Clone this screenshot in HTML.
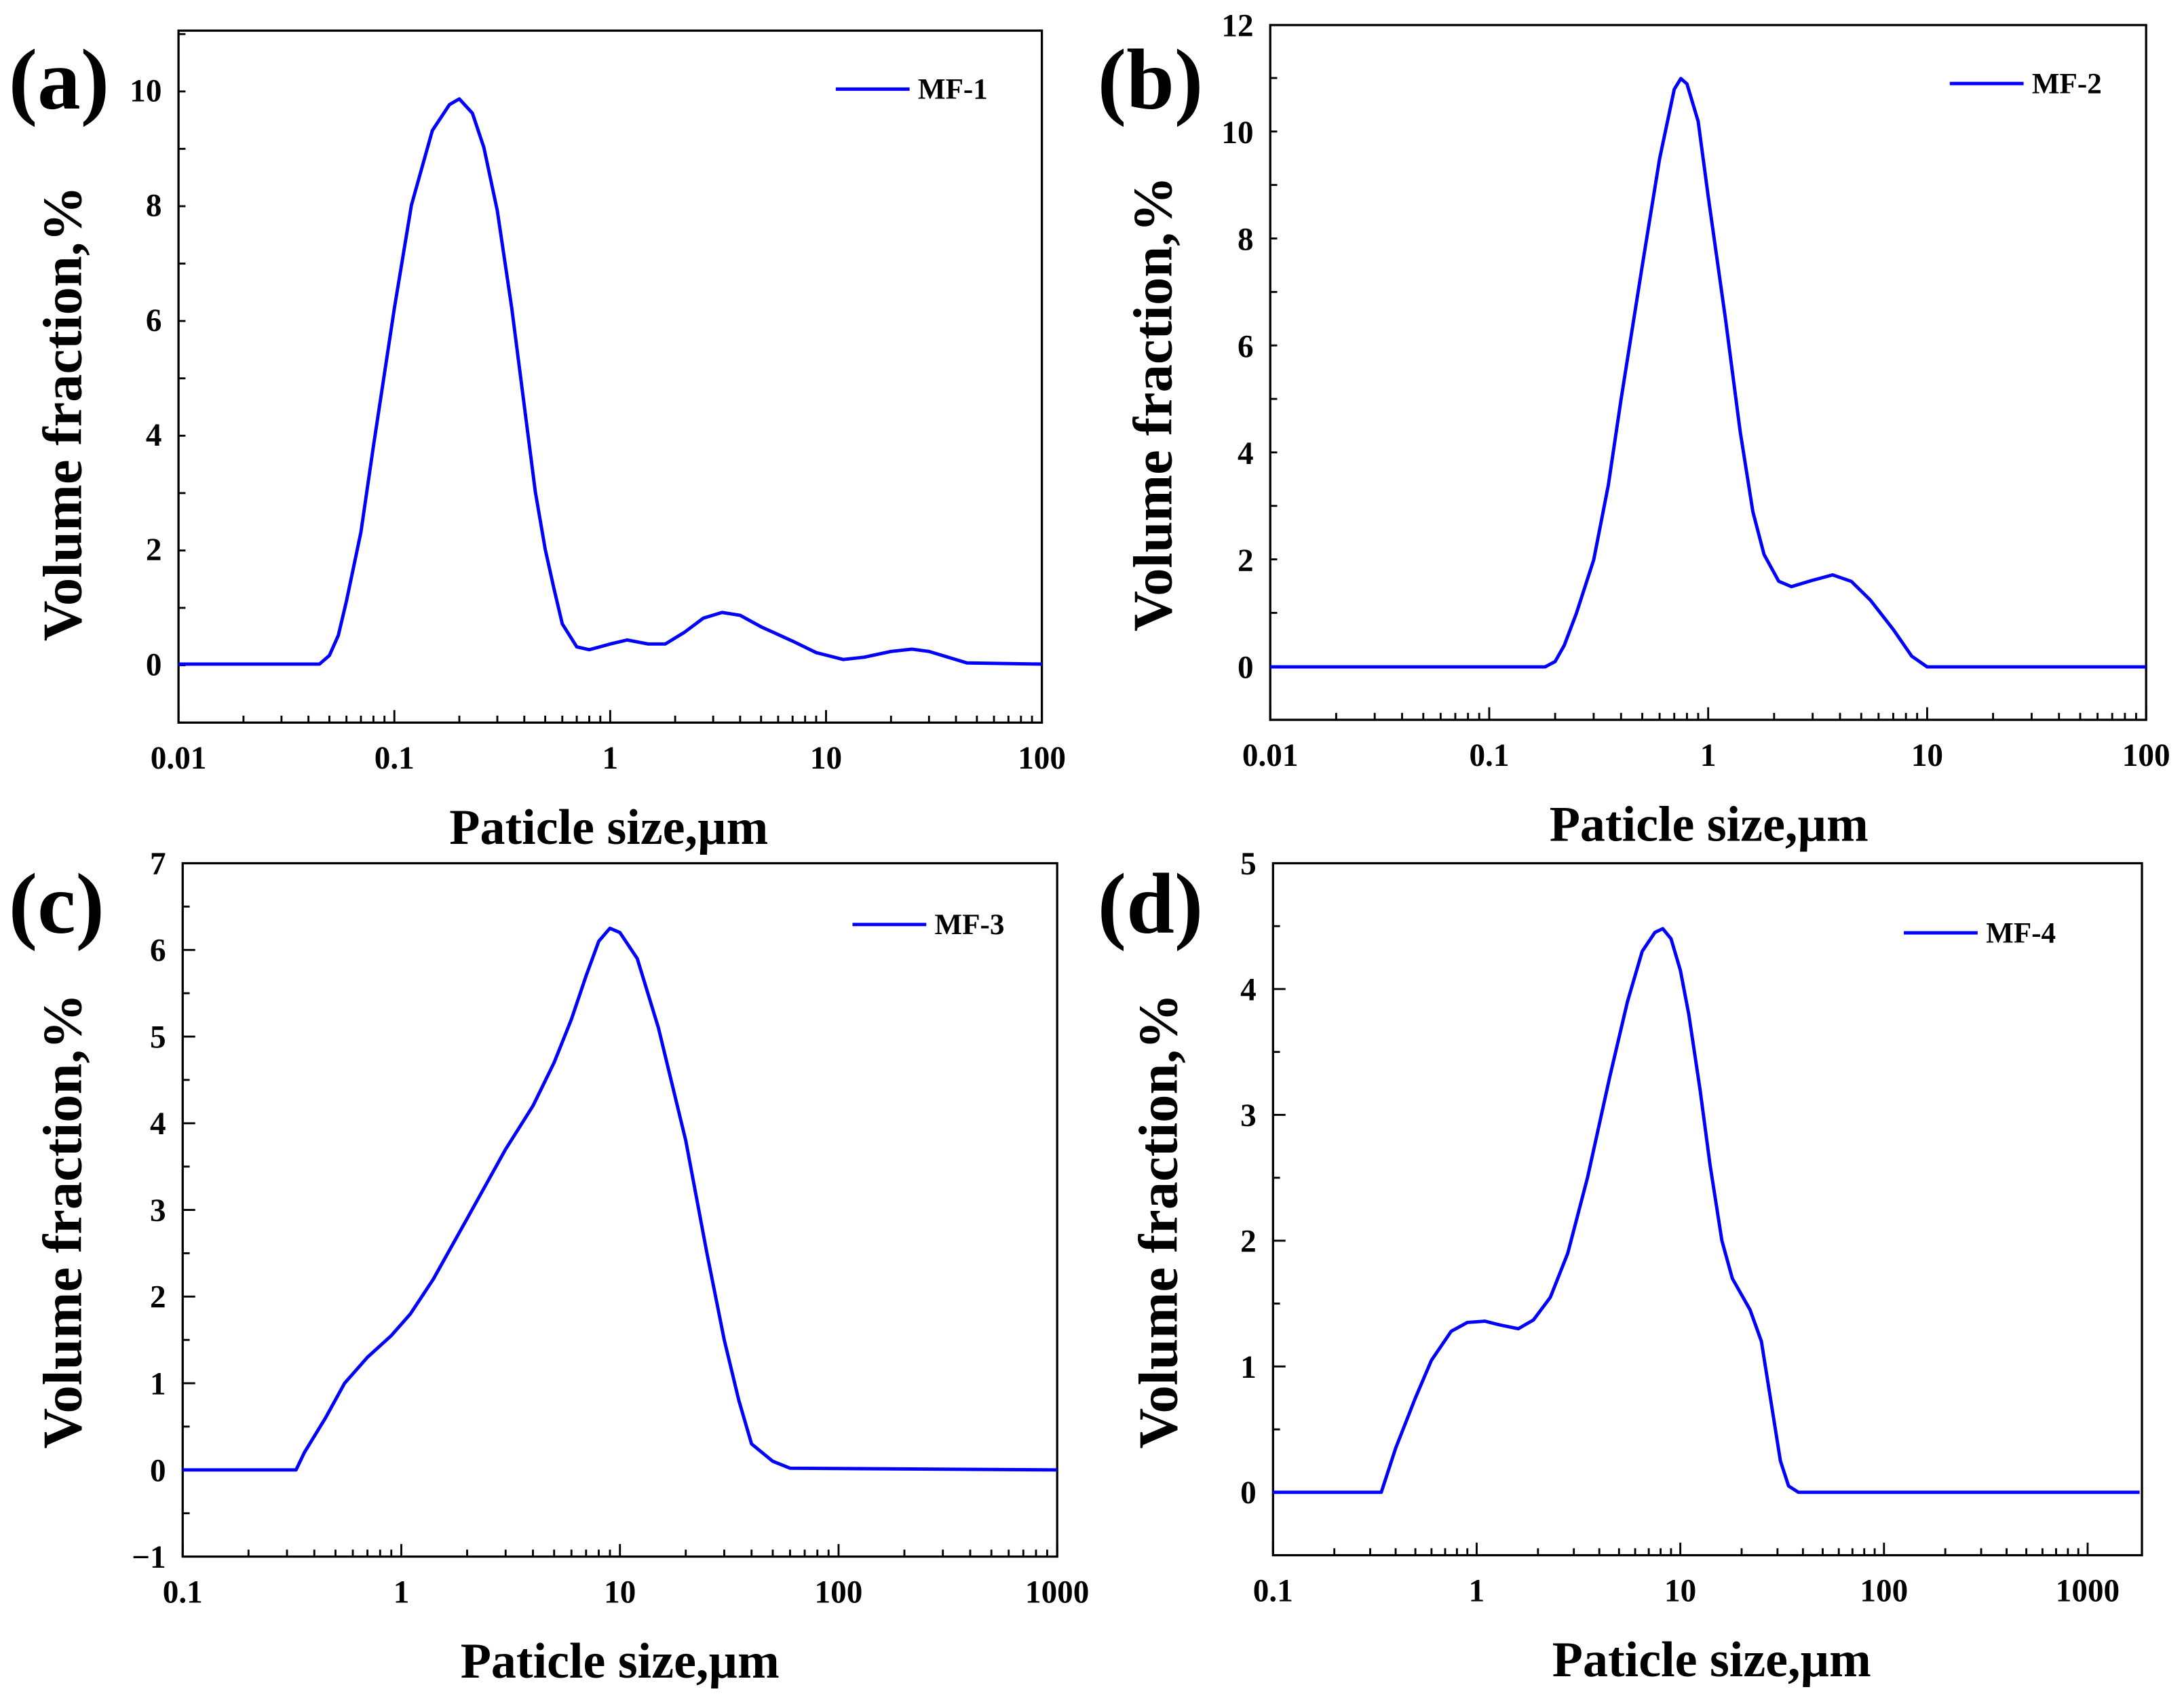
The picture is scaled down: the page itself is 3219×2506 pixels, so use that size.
<!DOCTYPE html>
<html><head><meta charset="utf-8"><style>
html,body{margin:0;padding:0;background:#fff}
svg{display:block}
text{font-family:"Liberation Serif",serif;font-weight:bold;fill:#000}
</style></head><body>
<svg id="fig" width="3219" height="2506" viewBox="0 0 1568 1221" xmlns="http://www.w3.org/2000/svg"></svg>
<script>
// Panel (a) MF-1
const xA=[0.01,0.045,0.05,0.055,0.06,0.07,0.08,0.1,0.12,0.15,0.18,0.2,0.23,0.26,0.3,0.35,0.4,0.45,0.5,0.55,0.6,0.7,0.8,1.0,1.2,1.5,1.8,2.2,2.7,3.3,4,5,7,9,12,15,20,25,30,45,100];
const yA=[0,0,0.15,0.5,1.1,2.3,3.8,6.2,8.0,9.3,9.75,9.85,9.6,9.0,7.9,6.2,4.5,3.0,2.0,1.3,0.7,0.3,0.25,0.35,0.42,0.35,0.35,0.55,0.8,0.9,0.85,0.65,0.4,0.2,0.08,0.12,0.22,0.26,0.22,0.02,0];
// Panel (b) MF-2
const xB=[0.01,0.18,0.2,0.22,0.25,0.3,0.35,0.4,0.5,0.6,0.7,0.75,0.8,0.9,1.0,1.2,1.4,1.6,1.8,2.1,2.4,3,3.7,4.5,5.5,7,8.5,10,100];
const yB=[0,0,0.1,0.4,1.0,2.0,3.4,5.0,7.5,9.5,10.8,11.0,10.9,10.2,8.8,6.5,4.4,2.9,2.1,1.6,1.5,1.62,1.72,1.6,1.25,0.7,0.2,0,0];
// Panel (c) MF-3
const xC=[0.1,0.33,0.36,0.45,0.55,0.7,0.9,1.1,1.4,2,3,4,5,6,7,8,9,10,12,15,20,25,30,35,40,50,60,1000];
const yC=[0,0,0.2,0.6,1.0,1.3,1.55,1.8,2.2,2.9,3.7,4.2,4.7,5.2,5.7,6.1,6.25,6.2,5.9,5.1,3.8,2.5,1.5,0.8,0.3,0.1,0.02,0];
// Panel (d) MF-4
const xD=[0.1,0.34,0.4,0.5,0.6,0.75,0.9,1.1,1.3,1.6,1.9,2.3,2.8,3.5,4.5,5.5,6.5,7.5,8.2,9,10,11,12.5,14,16,18,22,25,28,31,34,38,1800];
const yD=[0,0,0.35,0.75,1.05,1.28,1.35,1.36,1.33,1.3,1.37,1.55,1.9,2.5,3.3,3.9,4.3,4.45,4.48,4.4,4.15,3.8,3.2,2.6,2.0,1.7,1.45,1.2,0.7,0.25,0.05,0,0];
// tick labels
const yTicksA=[0,2,4,6,8,10];
const yTicksB=[0,2,4,6,8,10,12];
const yTicksC=[-1,0,1,2,3,4,5,6,7];
const yTicksD=[0,1,2,3,4,5];
const xTicksAB=[0.01,0.1,1,10,100];
const xTicksCD=[0.1,1,10,100,1000];

const NS="http://www.w3.org/2000/svg";
const svg=document.getElementById('fig');
function mk(tag,attrs,parent){const e=document.createElementNS(NS,tag);for(const k in attrs)e.setAttribute(k,attrs[k]);(parent||svg).appendChild(e);return e;}
function fmt(v){return v<0?'\u2212'+Math.abs(v):String(v);}

function panel(o){
  const g=mk('g',{});
  
  
  const L=o.L,R=o.R,T=o.T,B=o.B;
  const lx0=Math.log10(o.xmin),lx1=Math.log10(o.xmax);
  const sx=v=>L+(Math.log10(v)-lx0)/(lx1-lx0)*(R-L);
  const sy=v=>B-(v-o.ymin)/(o.ymax-o.ymin)*(B-T);
  const fr=mk('rect',{x:L,y:T,width:R-L,height:B-T,fill:'none',stroke:'#000','stroke-width':1.6},g);
  
  
  for(let d=Math.floor(lx0);d<=Math.ceil(lx1);d++){
    for(let m=1;m<10;m++){
      const v=m*Math.pow(10,d);
      if(v<o.xmin*0.999||v>o.xmax*1.001)continue;
      const x=sx(v);const len=m===1?9:5;
      const t=mk('line',{x1:x,x2:x,y1:B,y2:B-len,stroke:'#000','stroke-width':1.4},g);
      
      
    }
  }
  o.xt.forEach(v=>{
    const t=mk('text',{x:sx(v),y:B+33,'text-anchor':'middle','font-size':23},g);
    t.textContent=String(v);
    
    
  });
  const st=o.yt[1]-o.yt[0];
  for(let v=o.ymin;v<=o.ymax+1e-9;v+=st/2){
    const y=sy(v);const major=Math.abs((v-o.yt[0])/st-Math.round((v-o.yt[0])/st))<1e-6;
    const t=mk('line',{x1:L,x2:L+(major?9:5),y1:y,y2:y,stroke:'#000','stroke-width':1.4},g);
    
    
  }
  o.yt.forEach(v=>{
    const t=mk('text',{x:L-12,y:sy(v)+8,'text-anchor':'end','font-size':23},g);
    t.textContent=fmt(v);
    
    
  });
  let d='';o.xs.forEach((v,i)=>{d+=(i?'L':'M')+sx(v).toFixed(2)+','+sy(o.ys[i]).toFixed(2);});
  const p=mk('path',{d:d,fill:'none',stroke:'#0000ff','stroke-width':2.4,'stroke-linejoin':'round'},g);
  
  
  const lg=mk('g',{},g);
  
  
  mk('line',{x1:o.lgx,x2:o.lgx+53,y1:o.lgy,y2:o.lgy,stroke:'#0000ff','stroke-width':2.4},lg);
  const lt=mk('text',{x:o.lgx+59,y:o.lgy+7,'font-size':21},lg);lt.textContent=o.name;
  const xt=mk('text',{x:o.xtx,y:B+87,'text-anchor':'middle','font-size':36,textLength:229,lengthAdjust:'spacingAndGlyphs'},g);
  xt.textContent='Paticle size,\u00b5m';
  
  
  const cy=o.ytc;
  const yt=mk('text',{x:o.ytx,y:cy,'text-anchor':'middle','font-size':40,textLength:327,lengthAdjust:'spacingAndGlyphs',transform:'rotate(-90 '+o.ytx+' '+cy+')'},g);
  yt.textContent='Volume fraction,%';
  
  
  const pl=mk('text',{x:o.plx,y:o.ply,'font-size':62},g);
  pl.textContent='('+o.id+')';
  
  
}
panel({id:'a',name:'MF-1',L:128,R:748,T:22,B:519,xmin:0.01,xmax:100,ymin:-1.02,ymax:11.04,xt:xTicksAB,yt:yTicksA,xs:xA,ys:yA,lgx:600,lgy:64,ytx:58,ytc:297,xtx:437,plx:6,ply:78});
panel({id:'b',name:'MF-2',L:912,R:1541,T:18,B:517,xmin:0.01,xmax:100,ymin:-0.99,ymax:12,xt:xTicksAB,yt:yTicksB,xs:xB,ys:yB,lgx:1400,lgy:60,ytx:841,ytc:290,xtx:1227,plx:788,ply:78});
panel({id:'c',name:'MF-3',L:131,R:759,T:620,B:1118,xmin:0.1,xmax:1000,ymin:-1,ymax:7,xt:xTicksCD,yt:yTicksC,xs:xC,ys:yC,lgx:612,lgy:664,ytx:58,ytc:877,xtx:445,plx:6,ply:670});
panel({id:'d',name:'MF-4',L:914,R:1538,T:620,B:1117,xmin:0.1,xmax:1848,ymin:-0.5,ymax:5,xt:xTicksCD,yt:yTicksD,xs:xD,ys:yD,lgx:1367,lgy:670,ytx:845,ytc:877,xtx:1229,plx:788,ply:670});
</script>
</body></html>
